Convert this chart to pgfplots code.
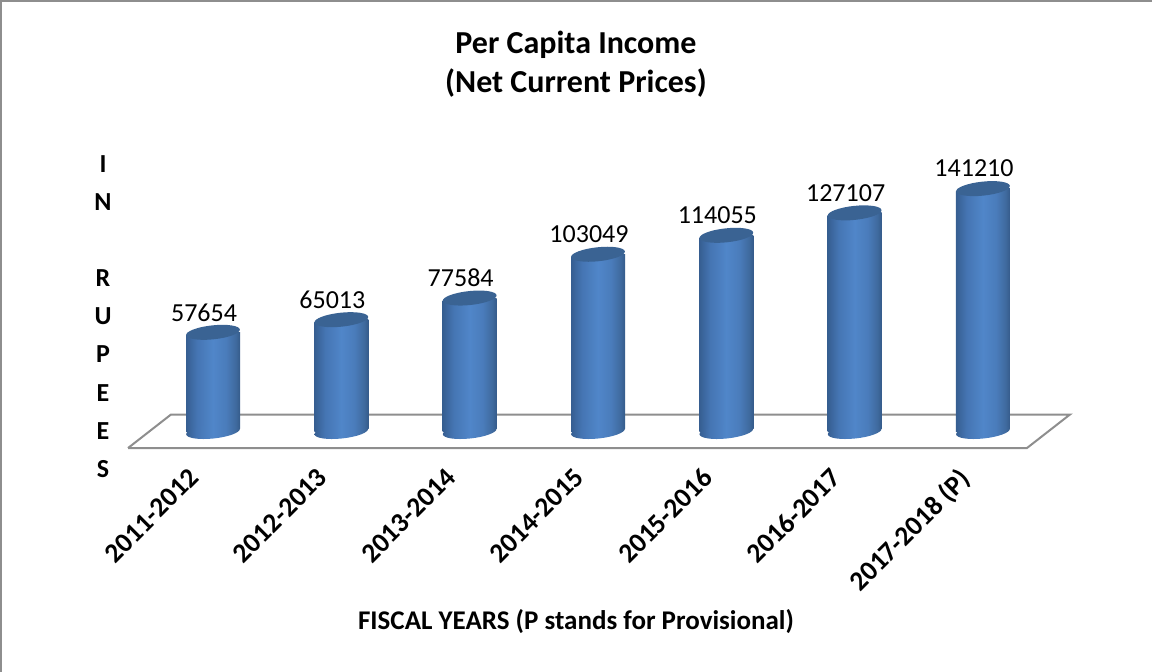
\documentclass[border=0pt]{standalone}
\usepackage{fontspec}
\setmainfont{Carlito}
\usepackage{pgfplots}
\usepackage{pgfplotstable}
\pgfplotsset{compat=1.18}

\definecolor{captop}{HTML}{3A6393}
\definecolor{floorline}{HTML}{8E8E8E}
\definecolor{cylA}{HTML}{365E91}
\definecolor{cylB}{HTML}{4575B3}
\definecolor{cylC}{HTML}{5086C9}
\definecolor{cylD}{HTML}{4A7CBB}
\definecolor{cylE}{HTML}{3F6A9E}
\definecolor{cylF}{HTML}{355B8A}
\pgfdeclarehorizontalshading{cyl}{100bp}{
  color(0bp)=(cylA);
  color(25bp)=(cylA);
  color(35bp)=(cylB);
  color(50bp)=(cylC);
  color(62bp)=(cylD);
  color(71bp)=(cylE);
  color(75bp)=(cylF);
  color(100bp)=(cylF)}

% tilted ellipses for the ends of the cylinders, the white wedge hides the bar's square corner
\pgfdeclareplotmark{cyltop}{
  \pgfpathmoveto{\pgfqpoint{-28pt}{1pt}}
  \pgfpathlineto{\pgfqpoint{-28pt}{-3pt}}
  \pgfpathlineto{\pgfqpoint{-20pt}{1pt}}
  \pgfpathclose
  \pgfsetfillcolor{white}
  \pgfusepathqfill
  \pgfpathellipse{\pgfpointorigin}{\pgfqpoint{26.85pt}{2.82pt}}{\pgfqpoint{-0.73pt}{6.96pt}}
  \pgfsetfillcolor{captop}
  \pgfusepathqfill
}
\pgfdeclareplotmark{cylbase}{
  \pgfpathmoveto{\pgfqpoint{28pt}{-1pt}}
  \pgfpathlineto{\pgfqpoint{28pt}{3pt}}
  \pgfpathlineto{\pgfqpoint{20pt}{-1pt}}
  \pgfpathclose
  \pgfsetfillcolor{white}
  \pgfusepathqfill
  \pgfpathellipse{\pgfpointorigin}{\pgfqpoint{26.85pt}{2.82pt}}{\pgfqpoint{-0.73pt}{6.96pt}}
  \pgfshadepath{cyl}{0}
  \pgfusepath{discard}
}

\pgfplotstableread{
idx income
0 57654
1 65013
2 77584
3 103049
4 114055
5 127107
6 141210
}\incometable

\begin{document}
\begin{tikzpicture}
\path[use as bounding box] (0,-202pt) rectangle (1152pt,470pt);
\begin{axis}[
  at={(0,0)}, anchor=south west,
  scale only axis, width=1152pt, height=470pt,
  clip=false,
  xmin=-1.66, xmax=7.317,
  ymin=-22384, ymax=250872,
  xtick={0,1,2,3,4,5,6},
  xticklabels={2011-2012,2012-2013,2013-2014,2014-2015,2015-2016,2016-2017,2017-2018 (P)},
  ytick=\empty,
  axis line style={draw=none},
  tick style={draw=none},
  xticklabel style={rotate=45, anchor=north east, font=\fontsize{27.5}{30}\selectfont\bfseries, xshift=-12pt, yshift=24pt},
  title={Per Capita Income\\(Net Current Prices)},
  title style={at={(0.5,0.85)}, anchor=center, align=center, font=\fontsize{32}{39}\selectfont\bfseries},
  xlabel={FISCAL YEARS (P stands for Provisional)},
  xlabel style={at={(0.5,-0.323)}, anchor=center, font=\fontsize{27}{30}\selectfont\bfseries},
  ylabel={I\\N\\ \\R\\U\\P\\E\\E\\S},
  ylabel style={at={(0.0894,0.3265)}, anchor=center, rotate=-90, align=center, font=\fontsize{26}{38.1}\selectfont\bfseries},
]
\addplot[draw=floorline, line width=2pt, fill=white] coordinates {
  (-0.662,-9593) (-0.3273,9884) (6.678,9884) (6.343,-9593) (-0.662,-9593)
};
\pgfplotsinvokeforeach{0,...,6}{
  \addplot[ybar, bar width=54pt, bar shift=0pt, draw=none, shading=cyl,
    restrict x to domain=#1:#1] table[x=idx,y=income] {\incometable};
}
\addplot[only marks, mark=cylbase] table[x=idx,y expr=0] {\incometable};
\addplot[only marks, mark=cyltop,
  nodes near coords,
  nodes near coords style={anchor=center, xshift=-9pt, yshift=20pt, font=\fontsize{26}{30}\selectfont,
    /pgf/number format/fixed, /pgf/number format/precision=0, /pgf/number format/1000 sep={},
    /pgf/number format/assume math mode=true},
] table[x=idx,y=income] {\incometable};
\end{axis}
\draw[floorline, line width=2pt] (1pt,-202pt) -- (1pt,469pt) -- (1152pt,469pt);
\end{tikzpicture}
\end{document}
